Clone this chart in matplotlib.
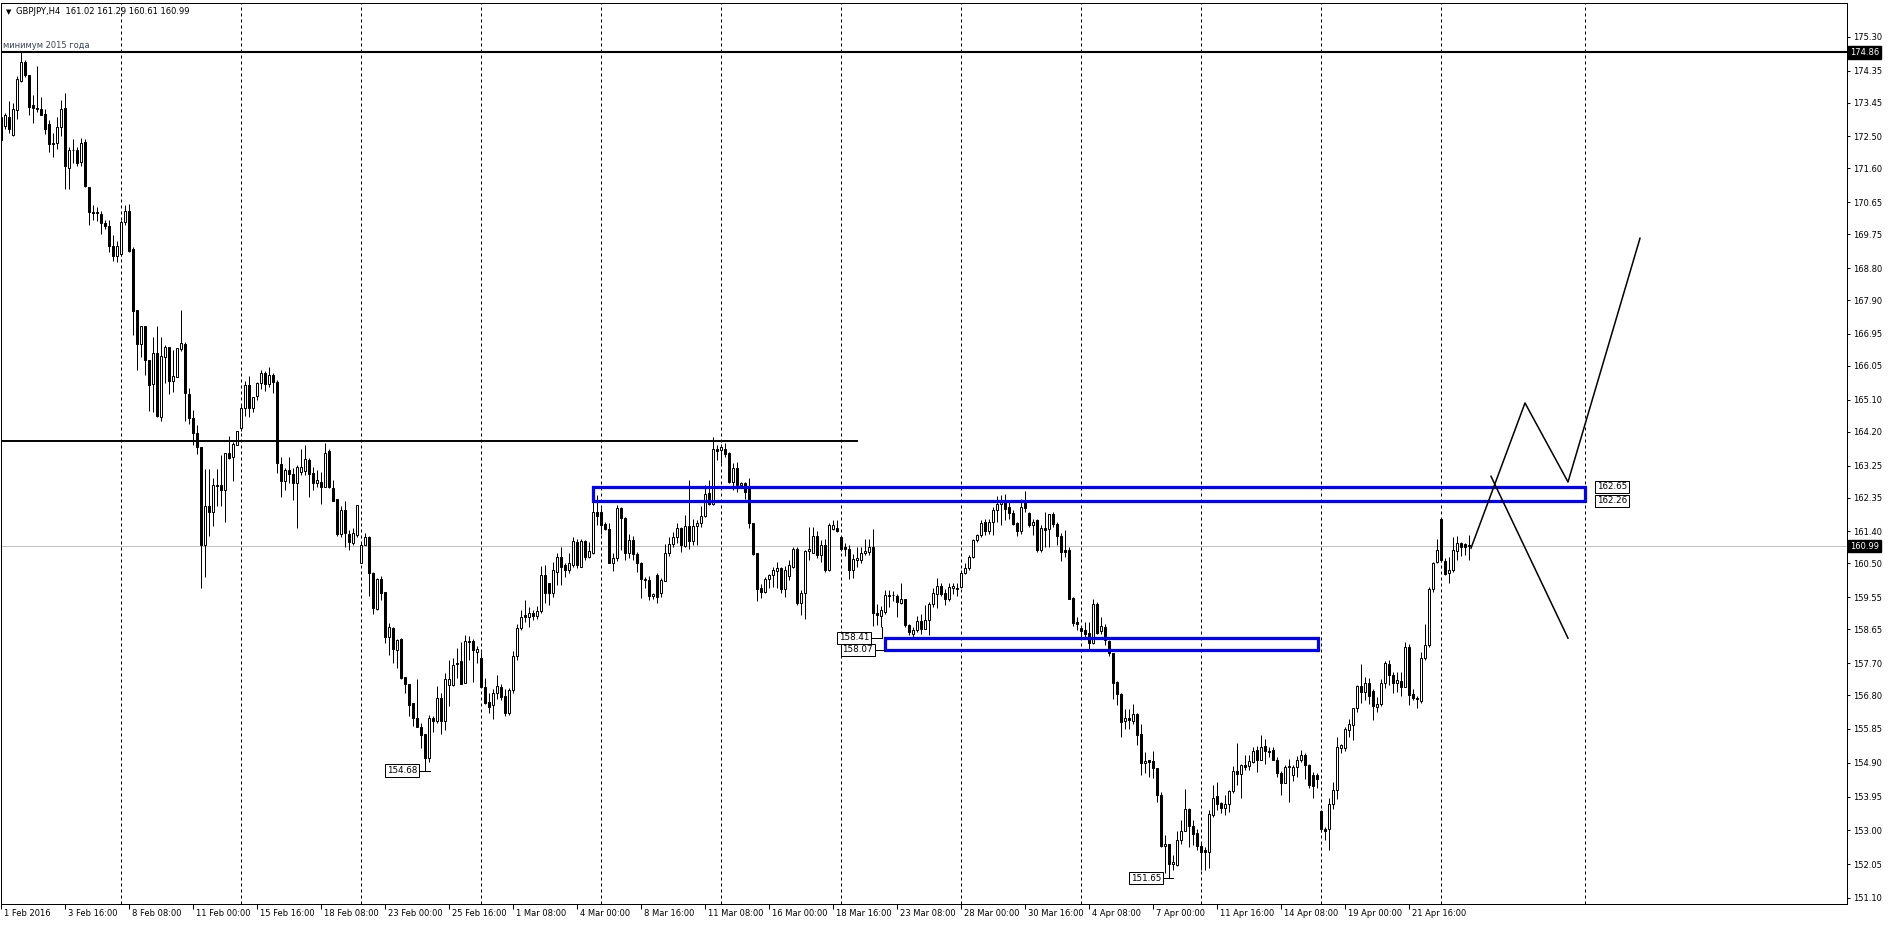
import matplotlib
matplotlib.use('Agg')
import matplotlib.pyplot as plt
import numpy as np
from matplotlib.patches import Rectangle

# ---------------- data (GBPJPY H4, one entry per bar, bar 0 = 1 Feb 2016 00:00) ----------------
opens = [
173.06,172.79,173.06,172.53,173.23,174.06,174.59,174.23,173.39,173.29,173.26,173.13,172.86,172.29,172.31,172.76,
173.31,171.61,172.11,172.13,171.79,172.33,171.09,170.39,170.36,170.33,170.06,169.99,169.43,169.13,169.21,170.09,
170.41,169.33,167.61,166.66,167.16,166.21,165.53,166.41,164.61,166.31,166.59,165.63,165.73,166.53,166.66,165.26,
164.59,164.16,163.76,161.01,162.11,161.96,162.71,162.71,162.56,163.59,163.49,163.83,164.31,164.86,165.51,164.86,
165.21,165.56,165.85,165.55,165.80,165.60,163.29,162.83,163.14,163.00,162.75,163.08,163.10,163.41,163.05,162.75,
162.80,162.66,163.67,162.61,162.30,161.33,162.00,161.33,161.08,161.30,160.52,161.02,161.25,160.24,159.21,160.05,
159.70,158.44,158.68,158.07,158.37,157.30,157.11,156.57,156.15,155.90,155.71,155.03,156.15,156.06,156.71,156.08,
157.08,157.08,157.71,157.77,157.15,158.33,158.33,158.00,157.84,157.02,156.62,156.52,156.85,157.04,156.78,156.31,
156.95,157.90,158.68,159.05,158.99,159.12,159.02,159.15,160.18,159.94,159.68,160.27,160.69,160.46,160.32,160.46,
161.11,160.41,161.14,160.69,160.78,161.96,161.96,161.61,161.48,160.52,160.64,162.05,161.77,160.80,161.16,160.77,
160.52,160.03,160.03,159.59,160.18,159.66,160.02,160.78,161.06,161.23,161.49,161.00,161.55,161.14,161.55,161.65,
161.83,162.49,162.17,163.73,163.69,163.73,163.60,162.80,163.17,162.70,162.75,162.64,161.63,160.78,159.80,159.71,
160.05,160.17,160.30,160.36,159.77,160.15,160.41,160.92,159.38,159.66,160.86,160.80,161.27,160.74,161.02,160.32,
161.47,161.49,161.23,160.95,160.92,160.32,160.60,160.60,160.80,160.83,160.97,159.12,159.03,159.14,159.58,159.60,
159.58,159.39,159.51,158.76,158.51,158.64,158.89,158.67,158.90,159.36,159.65,159.86,159.67,159.51,159.80,159.82,
159.84,160.24,160.36,160.68,161.17,161.29,161.67,161.42,161.67,161.99,162.18,162.23,162.09,161.92,161.64,161.42,
162.26,161.92,161.57,161.72,160.87,161.51,161.48,161.88,161.60,161.27,160.89,160.87,159.54,158.86,158.70,158.62,
158.55,158.27,159.37,158.60,158.72,158.32,157.99,157.17,156.83,156.08,156.17,156.08,156.28,155.70,154.90,154.97,
154.95,154.74,153.99,152.56,152.62,152.05,152.02,152.74,152.99,153.59,153.12,152.93,152.56,152.45,152.40,153.43,
153.96,153.77,153.62,153.74,154.11,154.67,154.58,154.85,154.80,154.93,155.27,154.99,155.37,155.24,155.26,154.99,
154.62,154.34,154.77,154.55,154.79,154.97,155.11,154.83,154.55,154.55,153.55,153.05,153.03,153.74,154.13,155.30,
155.30,155.83,155.96,156.43,157.05,156.89,157.15,156.92,156.47,156.55,157.15,157.67,157.36,157.13,157.20,157.03,
158.16,156.83,156.71,156.64,157.83,158.20,159.77,160.55,161.76,160.57,160.22,160.31,160.85,161.08,161.04,161.02,
]
highs = [
173.10,173.16,173.51,173.43,174.21,174.86,174.66,174.23,173.66,174.49,173.61,173.26,172.96,172.61,173.06,173.53,
173.73,172.21,172.43,172.21,172.46,172.43,171.09,170.56,170.53,170.41,170.16,170.16,169.73,169.56,170.16,170.56,
170.61,169.39,167.61,167.16,167.16,166.21,166.86,167.16,166.86,166.63,166.59,166.51,166.56,167.61,166.73,165.43,
164.81,164.39,163.76,163.16,163.16,162.89,163.16,163.56,163.59,164.09,163.91,164.23,164.96,165.63,165.76,165.19,
165.60,165.95,165.90,166.02,165.85,165.65,163.50,163.17,163.50,163.17,163.27,163.71,163.83,163.45,163.20,163.14,
163.08,163.89,163.73,162.85,162.30,162.11,162.26,161.44,161.51,162.14,161.07,161.35,161.27,160.27,160.08,160.15,
159.70,158.84,158.71,158.37,158.40,157.30,157.11,156.57,157.25,156.01,155.71,156.24,156.22,157.06,156.85,157.41,
157.79,157.84,158.12,158.30,158.49,158.46,158.37,158.17,158.02,157.27,156.85,156.96,157.37,157.12,156.96,157.00,
158.05,158.80,159.19,159.47,159.29,159.20,159.30,160.43,160.46,159.96,160.55,160.80,160.97,160.52,160.78,161.25,
161.20,161.20,161.16,161.11,162.26,162.42,162.05,161.67,161.63,160.78,162.14,162.10,161.81,161.33,161.27,160.83,
160.55,160.13,160.15,159.68,160.22,160.08,161.06,161.25,161.39,161.63,161.53,161.86,162.85,161.74,161.72,162.11,
162.70,162.84,164.06,163.83,163.87,163.89,163.64,163.33,163.36,162.80,162.80,162.89,161.63,160.80,159.92,160.13,
160.20,160.39,160.55,160.41,160.43,160.60,160.97,160.97,159.75,160.88,161.53,161.53,161.42,161.16,161.20,161.63,
161.72,161.72,161.25,161.07,161.02,160.77,160.97,160.97,161.20,161.20,161.46,159.35,159.30,159.75,159.75,159.72,
159.65,159.94,159.51,158.81,158.72,159.02,159.09,159.33,159.42,159.82,160.08,159.94,159.79,159.94,159.94,159.95,
160.33,160.50,160.73,161.20,161.34,161.72,161.76,161.76,162.09,162.39,162.42,162.45,162.23,161.99,161.67,162.30,
162.54,161.95,161.76,161.76,161.57,161.95,161.90,161.95,161.67,161.36,161.43,160.95,159.56,158.99,158.72,158.86,
158.86,159.51,159.42,159.00,158.79,158.34,157.99,157.20,156.87,156.40,156.40,156.56,156.30,155.98,155.20,154.99,
155.23,154.74,154.08,152.86,152.63,152.31,152.99,153.29,154.15,153.62,153.29,153.05,152.68,152.54,153.57,154.27,
154.36,153.80,153.99,154.13,154.80,155.46,154.86,155.11,155.11,155.35,155.37,155.67,155.58,155.35,155.33,155.07,
154.67,154.83,155.00,154.83,155.09,155.25,155.16,154.86,154.64,154.62,153.57,153.10,153.92,154.36,155.61,155.44,
155.91,156.14,156.45,157.08,157.67,157.30,157.27,156.96,156.75,157.24,157.76,157.78,157.46,157.46,157.46,158.30,
158.23,156.96,156.77,158.02,158.81,159.84,160.55,161.20,161.79,160.64,160.69,161.25,161.27,161.11,161.08,161.29,
]
lows = [
172.35,172.71,172.61,172.50,172.99,174.03,174.16,173.11,172.89,173.20,173.09,172.56,172.06,171.93,172.16,172.51,
171.03,171.03,171.76,171.66,171.66,171.09,170.01,170.16,170.11,169.76,169.91,169.26,169.01,168.96,169.13,170.01,
169.26,166.93,165.93,166.31,165.79,164.79,164.76,164.61,164.51,165.56,165.26,165.31,165.73,166.46,164.51,164.43,
163.83,163.59,159.81,160.13,161.26,161.56,162.11,162.11,161.66,163.43,162.83,163.83,164.23,164.63,164.61,164.76,
165.10,165.40,165.35,165.45,165.30,163.05,162.38,162.56,162.75,162.28,161.51,162.98,162.98,162.38,162.56,162.66,
162.17,162.64,162.61,162.26,161.27,161.25,160.97,160.88,161.02,161.25,160.50,161.02,159.59,159.08,159.19,159.47,
158.26,157.93,157.71,157.55,157.25,156.87,156.20,155.92,155.90,155.31,154.68,154.93,155.77,156.01,155.71,155.82,
156.50,157.06,157.27,157.11,157.15,157.79,157.18,157.70,157.02,156.55,156.31,156.12,156.68,156.65,156.21,156.25,
156.85,157.80,158.63,158.86,158.72,158.90,158.95,159.10,159.38,159.33,159.57,159.89,159.89,160.13,160.24,160.41,
160.36,160.41,160.60,160.64,160.77,161.58,161.33,161.44,160.52,160.30,160.58,160.88,160.60,160.64,160.60,160.27,
159.52,159.80,159.47,159.49,159.40,159.57,160.00,160.71,160.95,161.07,160.83,160.97,160.92,161.02,161.02,161.53,
161.80,162.14,162.14,163.41,163.31,163.50,162.75,162.56,162.52,162.64,162.30,161.49,160.74,159.45,159.52,159.66,
159.80,159.85,159.80,159.68,159.57,160.04,160.36,159.33,159.05,158.93,160.60,160.78,160.64,160.55,160.27,160.30,
161.44,161.39,160.86,160.71,160.05,160.08,160.41,160.50,160.74,160.74,158.74,158.77,158.72,159.09,159.28,159.45,
159.00,159.37,158.72,158.48,158.41,158.58,158.53,158.67,158.48,159.28,159.26,159.58,159.33,159.45,159.65,159.58,
159.82,160.20,160.31,160.64,161.11,161.25,161.29,161.34,161.29,161.67,161.58,161.72,161.76,161.57,161.27,161.32,
161.95,161.53,161.29,160.83,160.83,160.95,160.95,161.53,161.01,160.57,160.67,159.51,158.74,158.62,158.44,158.39,
158.11,158.25,158.51,158.53,158.20,157.90,156.70,156.52,155.63,155.86,155.86,156.00,155.39,154.55,154.62,154.50,
154.46,153.80,152.54,151.81,151.65,151.88,152.00,152.63,152.99,152.54,152.59,152.44,151.88,151.88,151.93,153.38,
153.57,153.48,153.43,153.52,154.06,154.27,153.92,154.69,154.69,154.90,154.65,154.99,154.86,155.07,154.97,154.50,
153.99,154.32,153.80,154.39,154.50,154.93,154.43,154.18,153.92,154.18,152.96,152.73,152.45,153.59,153.87,155.16,
155.24,155.61,155.55,156.33,156.58,156.66,156.55,156.10,156.33,156.49,156.99,157.08,156.85,156.89,156.77,157.02,
156.52,156.66,156.45,156.58,157.78,158.16,159.70,160.50,160.55,160.17,159.96,160.27,160.59,160.71,160.73,160.61,
]
closes = [
172.39,173.09,172.71,173.28,174.11,174.59,174.23,173.33,173.29,173.27,173.11,172.71,172.29,172.31,172.76,173.26,
171.66,172.11,172.13,171.76,172.31,171.11,170.39,170.36,170.38,170.06,169.99,169.43,169.13,169.43,170.09,170.41,
169.29,167.59,166.66,167.16,166.23,165.51,166.41,164.63,166.33,166.59,165.63,165.76,166.56,166.69,165.29,164.59,
164.16,163.76,161.01,162.11,161.96,162.71,162.69,162.56,163.59,163.46,163.86,164.23,164.86,165.51,164.86,165.19,
165.56,165.85,165.55,165.80,165.60,163.31,162.83,163.14,163.00,162.75,163.20,163.20,163.43,163.01,162.75,162.85,
162.66,163.61,162.64,162.26,161.33,162.00,161.35,161.11,161.35,162.14,161.02,161.23,160.22,159.24,160.05,159.68,
158.44,158.71,158.09,158.35,157.27,157.11,156.52,156.15,155.90,155.68,155.03,156.15,156.06,156.71,156.08,157.25,
157.25,157.65,157.68,157.11,158.33,158.30,158.07,158.10,157.04,156.59,156.48,156.85,157.06,156.74,156.31,156.95,
157.90,158.70,159.00,158.99,159.12,159.02,159.15,160.18,159.66,159.68,160.32,160.69,160.39,160.32,160.50,161.13,
160.46,161.14,160.69,160.86,161.96,161.83,161.58,161.48,160.52,160.64,162.05,161.77,160.80,161.16,160.77,160.52,
160.05,160.05,159.59,159.64,159.57,160.03,160.80,161.06,161.25,161.49,161.02,161.55,161.14,161.55,161.63,161.83,
162.45,162.17,163.73,163.67,163.76,163.58,162.80,163.17,162.70,162.77,162.52,161.65,160.77,159.77,159.71,160.05,
160.17,160.32,160.36,159.77,160.32,160.46,160.92,159.38,159.68,160.86,160.91,161.27,160.74,161.02,160.32,161.58,
161.58,161.42,160.90,160.90,160.32,160.62,160.64,160.80,160.86,160.97,159.12,159.05,159.19,159.61,159.60,159.62,
159.42,159.51,158.76,158.58,158.62,158.89,158.67,158.90,159.36,159.67,159.86,159.64,159.51,159.84,159.86,159.77,
160.24,160.36,160.68,161.17,161.29,161.64,161.42,161.67,161.99,162.18,162.26,162.04,161.92,161.62,161.42,162.09,
162.07,161.57,161.67,160.87,161.51,161.45,161.88,161.60,161.27,160.83,160.83,159.51,158.83,158.79,158.61,158.51,
158.27,159.37,158.55,158.74,158.34,157.99,157.14,156.83,156.05,156.17,156.11,156.27,155.67,154.88,154.95,154.93,
154.74,153.99,152.56,152.62,152.05,152.11,152.74,152.99,153.59,153.12,152.91,152.56,152.40,152.40,153.46,153.92,
153.74,153.62,153.74,154.11,154.67,154.58,154.83,154.78,154.96,155.24,154.99,155.33,155.24,155.21,154.99,154.62,
154.32,154.77,154.80,154.79,154.99,155.11,154.83,154.27,154.24,154.43,153.03,152.99,153.74,154.13,155.33,155.39,
155.84,155.99,156.43,157.05,156.89,157.15,156.77,156.49,156.55,157.15,157.69,157.36,157.15,157.22,157.03,158.16,
156.80,156.71,156.68,157.83,158.20,159.77,160.52,160.89,160.59,160.20,160.31,160.87,161.08,160.95,160.97,160.99,
]

symbol = "GBPJPY,H4"
time_labels = ["1 Feb 2016", "3 Feb 16:00", "8 Feb 08:00", "11 Feb 00:00", "15 Feb 16:00", "18 Feb 08:00",
               "23 Feb 00:00", "25 Feb 16:00", "1 Mar 08:00", "4 Mar 00:00", "8 Mar 16:00", "11 Mar 08:00",
               "16 Mar 00:00", "18 Mar 16:00", "23 Mar 08:00", "28 Mar 00:00", "30 Mar 16:00", "4 Apr 08:00",
               "7 Apr 00:00", "11 Apr 16:00", "14 Apr 08:00", "19 Apr 00:00", "21 Apr 16:00"]
time_label_bars = [0, 16, 32, 48, 64, 80, 96, 112, 128, 144, 160, 176, 192, 208, 224, 240, 256, 272, 288,
                   304, 320, 336, 352]
week_grid_bars = [30, 60, 90, 120, 150, 180, 210, 240, 270, 300, 330, 360, 396]
price_ticks = [175.30, 174.35, 173.45, 172.50, 171.60, 170.65, 169.75, 168.80, 167.90, 166.95, 166.05,
               165.10, 164.20, 163.25, 162.35, 161.40, 160.50, 159.55, 158.65, 157.70, 156.80, 155.85,
               154.90, 153.95, 153.00, 152.05, 151.10]

level_2015_low = 174.86
level_resist = 163.93
resist_end_bar = 214.25
bid_price = 160.99

zone_upper = (148, 396, 162.26, 162.65)   # bar from, bar to, low price, high price
zone_lower = (221, 329.25, 158.07, 158.41)

scenario_up_x = [367.5, 381, 391.75, 409.75]
scenario_up_y = [160.93, 165.01, 162.79, 169.64]
scenario_dn_x = [372.5, 391.75]
scenario_dn_y = [162.95, 158.40]

# ---------------- figure ----------------
W, H, DPI = 1888, 926, 100
fig = plt.figure(figsize=(W / DPI, H / DPI), dpi=DPI)
fig.patch.set_facecolor('white')
ax = fig.add_axes([1 / W, (H - 904) / H, 1846 / W, 901 / H])
ax.set_facecolor('white')
ax.set_xlim(0, 461.5)
ax.set_ylim(150.93, 176.25)

FONT = 'DejaVu Sans'
px = 0.72  # one pixel in points

for s in ax.spines.values():
    s.set_color('black')
    s.set_linewidth(px)

# weekly separators
for g in week_grid_bars:
    ax.axvline(g, color='black', lw=px, ls=(0, (3, 3)), zorder=1)

# bid line
ax.axhline(bid_price, color='#c0c0c0', lw=px, zorder=1)

# candles
o = np.array(opens); h = np.array(highs); l = np.array(lows); c = np.array(closes)
idx = np.arange(len(c))
up = c >= o
ax.vlines(idx, l, h, color='black', lw=px, zorder=3)
bottom = np.minimum(o, c)
height = np.maximum(np.abs(c - o), 0.012)
ax.bar(idx[up], height[up], bottom=bottom[up], width=0.72, facecolor='white',
       edgecolor='black', linewidth=px, zorder=4)
ax.bar(idx[~up], height[~up], bottom=bottom[~up], width=0.72, facecolor='black',
       edgecolor='black', linewidth=px, zorder=4)

# horizontal levels
ax.axhline(level_2015_low, color='black', lw=1.5, zorder=5)
ax.hlines(level_resist, 0, resist_end_bar, color='black', lw=1.4, zorder=5)

ax.annotate('минимум 2015 года', xy=(0, level_2015_low), xycoords=('axes fraction', 'data'),
            xytext=(2, 7), textcoords='offset pixels', ha='left', va='center',
            fontsize=6, color='#3a4256', family=FONT)

# zones
for (x0, x1, y0, y1) in (zone_upper, zone_lower):
    ax.add_patch(Rectangle((x0, y0), x1 - x0, y1 - y0, fill=False, edgecolor='#0000ff',
                           linewidth=2.3, zorder=6))

# scenario lines
ax.plot(scenario_up_x, scenario_up_y, color='black', lw=1.1, zorder=7)
ax.plot(scenario_dn_x, scenario_dn_y, color='black', lw=1.1, zorder=7)

box = dict(boxstyle='square,pad=0.18', facecolor='white', edgecolor='black', linewidth=px)

# right price labels of upper zone
for p in (zone_upper[3], zone_upper[2]):
    ax.annotate(f'{p:.2f}', xy=(zone_upper[1], p), xytext=(12, 0), textcoords='offset pixels',
                ha='left', va='center', fontsize=6.3, family=FONT, bbox=box, zorder=8)

# left price labels (with pointer lines)
left_labels = [(158.41, 217.5, 220.25, 158.72), (158.07, 218.5, 221.0, None),
               (154.68, 104.5, 107.25, None), (151.65, 290.5, 293.0, None)]
for p, xr, xe, yv in left_labels:
    ax.annotate(f'{p:.2f}', xy=(xr, p), xytext=(-2, 0), textcoords='offset pixels',
                ha='right', va='center', fontsize=6.3, family=FONT, bbox=box, zorder=8)
    ax.plot([xr, xe], [p, p], color='black', lw=px, zorder=8)
    if yv is not None:
        ax.plot([xe, xe], [p, yv], color='black', lw=px, zorder=8)

# y axis on the right
ax.yaxis.tick_right()
ax.set_yticks(price_ticks)
ax.set_yticklabels([f'{v:.2f}' for v in price_ticks], fontsize=6, family=FONT)
ax.tick_params(axis='y', direction='out', length=2.5, width=px, pad=2, colors='black')

for p in (level_2015_low, bid_price):
    ax.annotate(f'{p:.2f}', xy=(1, p), xycoords=('axes fraction', 'data'), xytext=(3, 0),
                textcoords='offset pixels', ha='left', va='center', fontsize=6, color='white',
                family=FONT, annotation_clip=False,
                bbox=dict(boxstyle='square,pad=0.2', facecolor='black', edgecolor='black'))

# x axis (time)
ax.set_xticks(time_label_bars)
ax.set_xticklabels([])
ax.tick_params(axis='x', direction='out', length=3.5, width=px, colors='black')
for b, t in zip(time_label_bars, time_labels):
    ax.annotate(t, xy=(b, 0), xycoords=('data', 'axes fraction'), xytext=(3, -10),
                textcoords='offset pixels', ha='left', va='center', fontsize=6, family=FONT,
                annotation_clip=False)

# header
ax.annotate('▼', xy=(0, 1), xycoords='axes fraction', xytext=(5, -9), textcoords='offset pixels',
            ha='left', va='center', fontsize=5, family=FONT)
ax.annotate(f'{symbol}  {opens[-1]:.2f} {highs[-1]:.2f} {lows[-1]:.2f} {closes[-1]:.2f}',
            xy=(0, 1), xycoords='axes fraction', xytext=(15, -9), textcoords='offset pixels',
            ha='left', va='center', fontsize=6, family=FONT)

fig.savefig('out.png', dpi=DPI, facecolor='white')
